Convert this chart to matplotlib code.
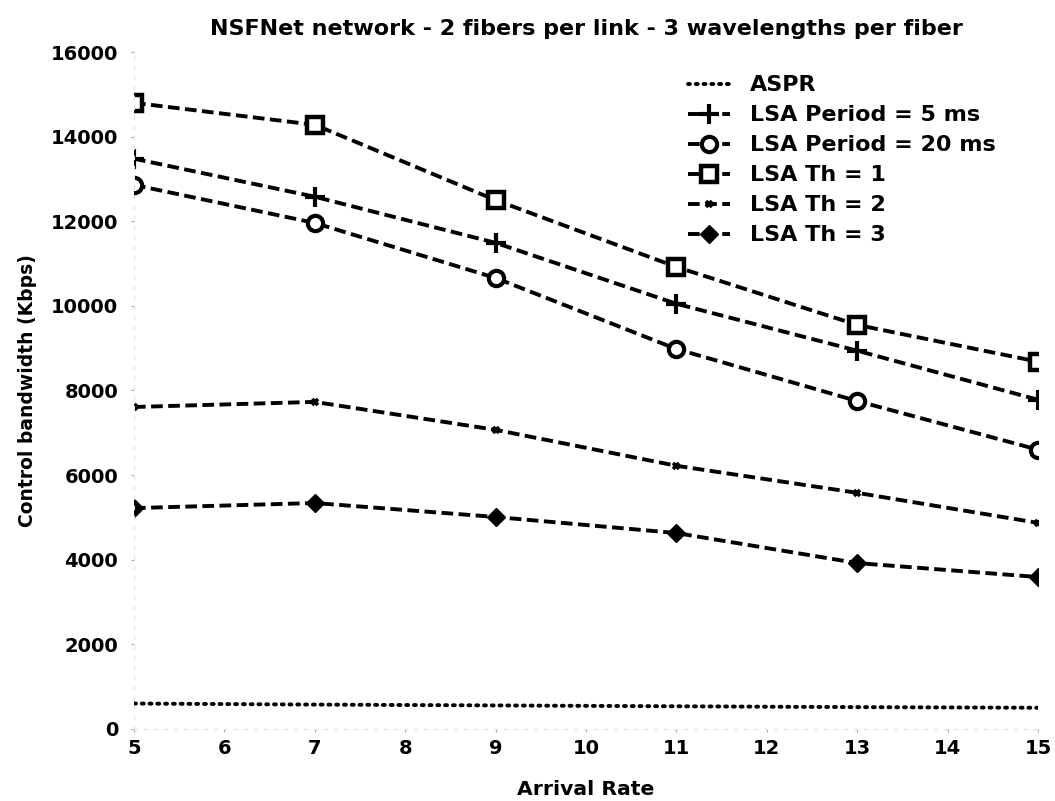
import matplotlib
matplotlib.use("Agg")
import matplotlib.pyplot as plt

plt.rcParams['font.family'] = ['DejaVu Sans']
plt.rcParams['font.weight'] = 'bold'
plt.rcParams['axes.titleweight'] = 'bold'
plt.rcParams['axes.labelweight'] = 'bold'

arrival = [5, 7, 9, 11, 13, 15]
aspr = [600, 575, 555, 535, 515, 500]
period_5ms = [13480, 12580, 11490, 10050, 8940, 7780]
period_20ms = [12860, 11960, 10660, 8980, 7750, 6600]
th_1 = [14800, 14280, 12500, 10920, 9550, 8680]
th_2 = [7610, 7730, 7070, 6220, 5580, 4870]
th_3 = [5220, 5340, 5010, 4630, 3920, 3590]

fig = plt.figure(figsize=(10.55, 8.01), dpi=100)
ax = fig.add_axes([0.127, 0.09, 0.857, 0.845])

dash = dict(color="black", linewidth=2.8, dashes=(3.0, 1.4))
ax.plot(arrival, aspr, color="black", linewidth=2.8, linestyle=(0, (0.5, 1.5)),
        dash_capstyle="round", label="ASPR")
ax.plot(arrival, period_5ms, marker="+", markersize=14, markeredgewidth=3,
        label="LSA Period = 5 ms", **dash)
ax.plot(arrival, period_20ms, marker="o", markersize=11, markeredgewidth=3,
        markerfacecolor="white", label="LSA Period = 20 ms", **dash)
ax.plot(arrival, th_1, marker="s", markersize=12, markeredgewidth=3.2,
        markerfacecolor="white", label="LSA Th = 1", **dash)
ax.plot(arrival, th_2, marker="x", markersize=5, markeredgewidth=2.6,
        label="LSA Th = 2", **dash)
ax.plot(arrival, th_3, marker="D", markersize=9, label="LSA Th = 3", **dash)

ax.set_xlim(5, 15)
ax.set_ylim(0, 16000)
ax.set_xticks(range(5, 16))
ax.set_yticks(range(0, 16001, 2000))

for side in ["top", "right"]:
    ax.spines[side].set_visible(False)
for side in ["left", "bottom"]:
    ax.spines[side].set_color("#e0e0e0")
    ax.spines[side].set_linestyle((0, (3, 6)))
    ax.spines[side].set_linewidth(0.8)
ax.tick_params(length=2, width=0.8, color="#aaaaaa", labelsize=14)
ax.tick_params(axis="x", pad=5)
ax.tick_params(axis="y", pad=9.5)

ax.set_title("NSFNet network - 2 fibers per link - 3 wavelengths per fiber",
             fontsize=16, pad=12)
ax.set_xlabel("Arrival Rate", fontsize=14.7, labelpad=16)
ax.set_ylabel("Control bandwidth (Kbps)", fontsize=13.5, labelpad=10)

ax.legend(loc="upper left", bbox_to_anchor=(0.652, 0.906),
          bbox_transform=fig.transFigure, frameon=False, fontsize=16,
          handlelength=1.9, handletextpad=0.9, labelspacing=0.45,
          borderpad=0, borderaxespad=0)

fig.savefig("out.png", dpi=100)
